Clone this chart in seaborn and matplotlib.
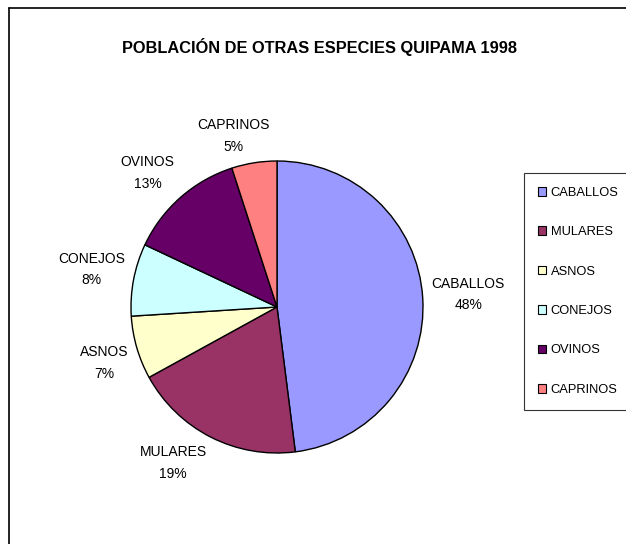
import matplotlib
matplotlib.use("Agg")
import matplotlib.pyplot as plt
import matplotlib.transforms as mtransforms
import seaborn as sns
import numpy as np
from matplotlib.patches import Patch
from matplotlib.lines import Line2D

especies = ["CABALLOS", "MULARES", "ASNOS", "CONEJOS", "OVINOS", "CAPRINOS"]
porcentajes = [48, 19, 7, 8, 13, 5]
colores = ["#9999FF", "#993366", "#FFFFCC", "#CCFFFF", "#660066", "#FF8080"]

sns.set_style("white")
plt.rcParams["font.family"] = ["Liberation Sans", "DejaVu Sans"]
plt.rcParams["text.color"] = "black"

W, H = 626, 544
fig = plt.figure(figsize=(W / 100, H / 100), dpi=100)

# pie placed by pixel: center (277, 307), radius 146
cx, cy, r = 277, 307, 146
ax = fig.add_axes([(cx - r) / W, (H - cy - r) / H, 2 * r / W, 2 * r / H])
pal = sns.color_palette(colores)
wedges, _ = ax.pie(porcentajes, colors=pal, startangle=90, counterclock=False,
                   wedgeprops=dict(edgecolor="black", linewidth=1))
ax.set_xlim(-1, 1)
ax.set_ylim(-1, 1)
ax.set_aspect("equal")
ax.axis("off")

# labels just outside the wedge edge, pushed away from the centre (Excel style)
renderer = fig.canvas.get_renderer()
d = 1 + 9 / r
for w, nombre, p in zip(wedges, especies, porcentajes):
    ang = np.deg2rad((w.theta1 + w.theta2) / 2)
    c, s = np.cos(ang), np.sin(ang)
    t = ax.text(d * c, d * s, f"{nombre}\n{p}%", ha="center", va="center",
                multialignment="center", fontsize=10, linespacing=1.7,
                clip_on=False)
    bb = t.get_window_extent(renderer)
    fx = np.clip(c / 0.3, -1, 1)
    fy = np.clip(s / 0.4, -1, 1)
    dx = fx * bb.width / 2 / fig.dpi
    dy = fy * bb.height / 2 / fig.dpi
    t.set_transform(ax.transData + mtransforms.ScaledTranslation(dx, dy, fig.dpi_scale_trans))

fig.text(320 / W, 1 - 47 / H, "POBLACIÓN DE OTRAS ESPECIES QUIPAMA 1998",
         ha="center", va="center", fontsize=11.8, fontweight="bold")

# outer chart border (left and top visible)
fig.add_artist(Line2D([9 / W, 9 / W], [0, 1 - 8 / H], transform=fig.transFigure,
                      color="black", linewidth=1.2))
fig.add_artist(Line2D([9 / W, 1], [1 - 8 / H, 1 - 8 / H], transform=fig.transFigure,
                      color="black", linewidth=1.2))

handles = [Patch(facecolor=c, edgecolor="black", linewidth=0.8) for c in pal]
leg = fig.legend(handles, especies, loc="upper left",
                 bbox_to_anchor=(524 / W, 1 - 173 / H), fontsize=9.3,
                 frameon=True, fancybox=False, labelspacing=2.12,
                 handlelength=0.65, handleheight=0.65, handletextpad=0.35,
                 borderpad=1.08, borderaxespad=0)
leg.get_frame().set_edgecolor("black")
leg.get_frame().set_linewidth(0.8)

fig.savefig("out.png", dpi=100)
